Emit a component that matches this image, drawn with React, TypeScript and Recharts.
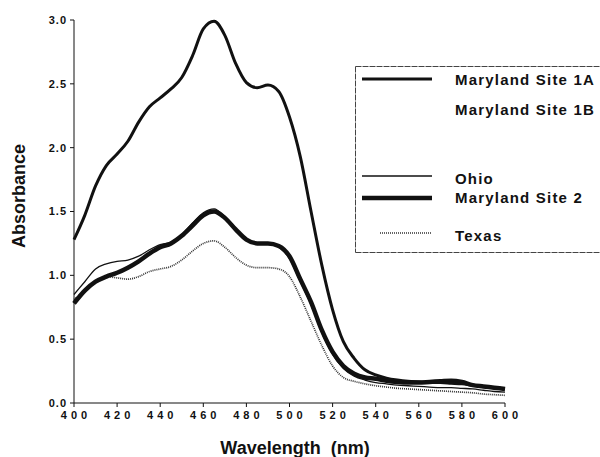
import React from 'react';
import { LineChart, Line, XAxis, YAxis } from 'recharts';

const wavelengths = [
  400, 405, 410, 415, 420, 425, 430, 435, 440, 445, 450, 455, 460, 465, 470, 475, 480, 485, 490, 495,
  500, 505, 510, 515, 520, 525, 530, 535, 540, 545, 550, 555, 560, 565, 570, 575, 580, 585, 590, 595, 600,
];

const marylandSite1A = [
  1.28, 1.47, 1.7, 1.86, 1.95, 2.05, 2.2, 2.32, 2.39, 2.46, 2.55, 2.72, 2.93, 2.99, 2.88, 2.66, 2.51, 2.47, 2.49, 2.44,
  2.24, 1.93, 1.5, 1.08, 0.73, 0.48, 0.35, 0.26, 0.22, 0.195, 0.18, 0.17, 0.165, 0.16, 0.16, 0.155, 0.15, 0.14, 0.13, 0.12, 0.11,
];

const marylandSite2 = [
  0.78, 0.88, 0.95, 0.99, 1.02, 1.06, 1.11, 1.17, 1.22, 1.25, 1.31, 1.39, 1.47, 1.5, 1.45, 1.36, 1.28, 1.25, 1.25, 1.23,
  1.15, 0.97, 0.79, 0.57, 0.4, 0.29, 0.23, 0.2, 0.19, 0.175, 0.165, 0.16, 0.16, 0.165, 0.17, 0.175, 0.165, 0.14, 0.13, 0.12, 0.11,
];

const ohio = [
  0.85, 0.95, 1.05, 1.09, 1.11, 1.12, 1.15, 1.2, 1.24, 1.26, 1.32, 1.41, 1.49, 1.52, 1.46, 1.37, 1.28, 1.25, 1.25, 1.22,
  1.13, 0.95, 0.77, 0.55, 0.38, 0.27, 0.21, 0.18, 0.16, 0.15, 0.14, 0.135, 0.13, 0.125, 0.12, 0.12, 0.115, 0.11, 0.1, 0.09, 0.085,
];

const texas = [
  0.81, 0.88, 0.95, 0.99, 0.98, 0.97, 0.99, 1.03, 1.05, 1.07, 1.12, 1.19, 1.25, 1.27, 1.22, 1.14, 1.08, 1.06, 1.06, 1.05,
  0.99, 0.83, 0.64, 0.45, 0.29, 0.2, 0.17, 0.15, 0.135, 0.125, 0.115, 0.11, 0.105, 0.1, 0.095, 0.09, 0.085, 0.08, 0.07, 0.065, 0.06,
];

const xTicks = [400, 420, 440, 460, 480, 500, 520, 540, 560, 580, 600];
const yTicks = [0, 0.5, 1, 1.5, 2, 2.5, 3];
const seriesNames = ['Maryland Site 1A', 'Maryland Site 1B', 'Ohio', 'Maryland Site 2', 'Texas'];

const data = wavelengths.map((w, i) => ({
  w,
  md1a: marylandSite1A[i],
  md2: marylandSite2[i],
  ohio: ohio[i],
  texas: texas[i],
}));

const FONT = '"Liberation Sans", Arial, Helvetica, sans-serif';

const LegendBox = () => {
  const textStyle = { fontFamily: FONT, fontSize: 15, fontWeight: 700, letterSpacing: 1.2, fill: '#111' } as const;
  return (
    <g transform="translate(355 66)">
      <line x1={0.5} y1={0.5} x2={245} y2={0.5} stroke="#444" strokeWidth={1} strokeDasharray="6 1" />
      <line x1={0.5} y1={0.5} x2={0.5} y2={186.5} stroke="#444" strokeWidth={1} strokeDasharray="6 1" />
      <line x1={0.5} y1={186.5} x2={245} y2={186.5} stroke="#444" strokeWidth={1} strokeDasharray="6 1" />
      <line x1={7} y1={13} x2={77} y2={13} stroke="#111" strokeWidth={3} />
      <text x={100} y={13} dominantBaseline="central" style={textStyle}>{seriesNames[0]}</text>
      <text x={100} y={43} dominantBaseline="central" style={textStyle}>{seriesNames[1]}</text>
      <line x1={7} y1={110} x2={77} y2={110} stroke="#111" strokeWidth={1.3} />
      <text x={100} y={112} dominantBaseline="central" style={textStyle}>{seriesNames[2]}</text>
      <line x1={7} y1={132} x2={77} y2={132} stroke="#111" strokeWidth={4.5} />
      <text x={100} y={131} dominantBaseline="central" style={textStyle}>{seriesNames[3]}</text>
      <line x1={25} y1={167} x2={77} y2={167} stroke="#333" strokeWidth={1.7} strokeDasharray="1 1" />
      <text x={100} y={169} dominantBaseline="central" style={textStyle}>{seriesNames[4]}</text>
    </g>
  );
};

export default function App() {
  return (
    <div style={{ position: 'absolute', left: 0, top: 0, width: 600, height: 457, background: '#fff' }}>
      <LineChart
        width={600}
        height={457}
        data={data}
        margin={{ top: 20, right: 95, bottom: 0, left: 0 }}
      >
        <XAxis
          dataKey="w"
          type="number"
          domain={[400, 600]}
          ticks={xTicks}
          height={54}
          stroke="#111"
          tickSize={4}
          tickMargin={4}
          tick={{ fontFamily: FONT, fontSize: 11, fontWeight: 700, fill: '#111', letterSpacing: 4, dx: 2 }}
        />
        <YAxis
          type="number"
          domain={[0, 3]}
          ticks={yTicks}
          width={74}
          stroke="#111"
          tickSize={4}
          tickMargin={3}
          tickFormatter={(v: number) => v.toFixed(1)}
          tick={{ fontFamily: FONT, fontSize: 11, fontWeight: 700, fill: '#111', letterSpacing: 1 }}
        />
        <Line type="monotone" dataKey="texas" stroke="#333" strokeWidth={1.7} strokeDasharray="1 1" dot={false} isAnimationActive={false} />
        <Line type="monotone" dataKey="md2" stroke="#111" strokeWidth={4.5} dot={false} isAnimationActive={false} />
        <Line type="monotone" dataKey="ohio" stroke="#111" strokeWidth={1.3} dot={false} isAnimationActive={false} />
        <Line type="monotone" dataKey="md1a" stroke="#111" strokeWidth={3} dot={false} isAnimationActive={false} />
      </LineChart>
      <svg width={600} height={457} style={{ position: 'absolute', left: 0, top: 0, pointerEvents: 'none' }}>
        <LegendBox />
        <text
          x={19}
          y={196}
          transform="rotate(-90 19 196)"
          textAnchor="middle"
          dominantBaseline="central"
          style={{ fontFamily: FONT, fontSize: 18, fontWeight: 700, fill: '#111' }}
        >
          Absorbance
        </text>
        <text
          x={295}
          y={448}
          textAnchor="middle"
          dominantBaseline="central"
          xmlSpace="preserve"
          style={{ fontFamily: FONT, fontSize: 18, fontWeight: 700, fill: '#111', whiteSpace: 'pre' }}
        >
          {'Wavelength  (nm)'}
        </text>
      </svg>
    </div>
  );
}
